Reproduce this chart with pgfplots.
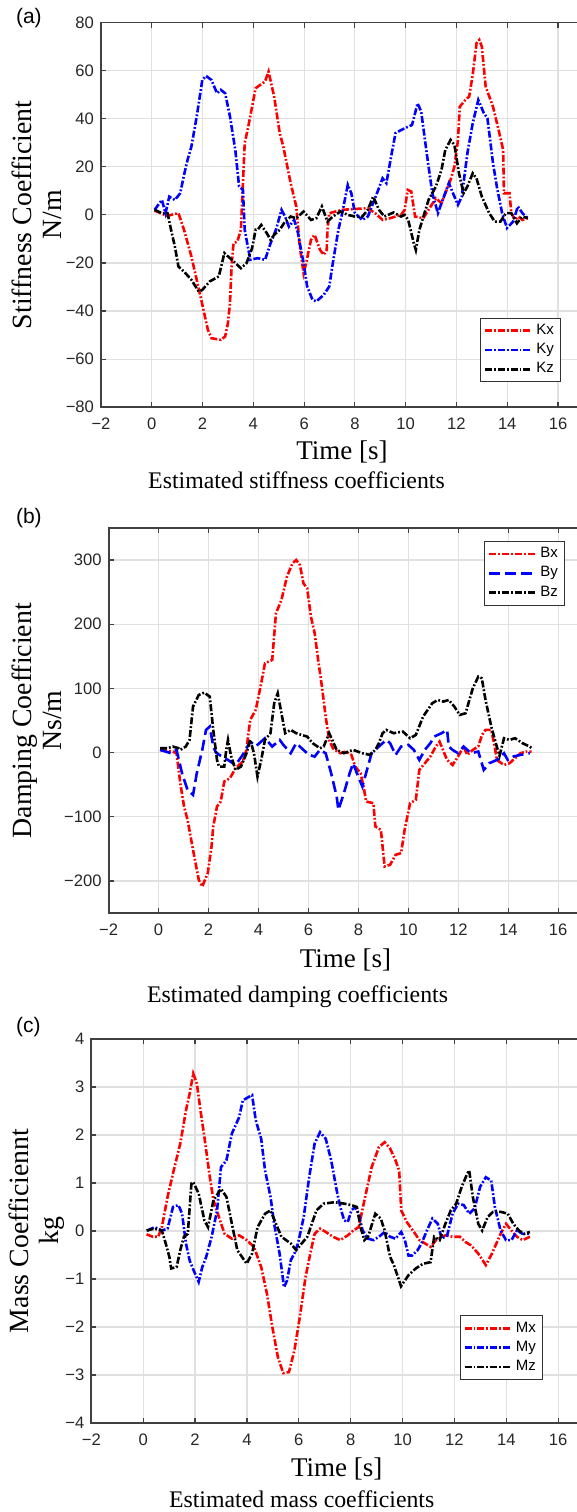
\documentclass[border=0pt]{standalone}
\usepackage{fontspec}
\setmainfont{Liberation Serif}
\newfontfamily\arialf{Liberation Sans}
\usepackage{pgfplots}
\pgfplotsset{compat=1.18}

\pgfplotsset{
  coefax/.style={
    scale only axis, anchor=south west,
    xmin=-2, xmax=17,
    xtick={-2,0,...,16},
    xticklabels={−2,0,2,4,6,8,10,12,14,16},
    tick align=inside, major tick length=2.5pt,
    tick style={black!75, line width=0.6pt},
    axis line style={black!75, line width=0.9pt},
    grid=major, grid style={black!12, line width=0.6pt},
    ticklabel style={font=\arialf\fontsize{8.3}{9}\selectfont, text=black!85},
    xticklabel style={yshift=-2pt},
    legend cell align=left,
    legend style={font=\arialf\fontsize{7.5}{8}\selectfont, draw=black!80,
      line width=0.5pt, inner xsep=1.5pt, inner ysep=1pt, row sep=-1pt,
      anchor=north east},
    legend image code/.code={\draw[#1] (0pt,0pt) -- (23pt,0pt);},
  },
  dashdot/.style={line width=1.3pt, dash pattern=on 3.5pt off 1pt on 0.9pt off 1pt},
  dashd/.style={line width=1.3pt, dash pattern=on 5.5pt off 2.5pt},
}

\begin{document}
\begin{tikzpicture}
\useasboundingbox (0,0) rectangle (288.5pt,756pt);
\clip (0,0) rectangle (288.5pt,756pt);

% (a) stiffness
\begin{axis}[coefax, at={(50.5pt,552.4pt)}, width=241.2pt, height=192.3pt,
  ymin=-80, ymax=80, ytick={-80,-60,...,80},
  yticklabels={−80,−60,−40,−20,0,20,40,60,80},
  legend style={at={(axis cs:16.13,-42.7)}}]
\addplot[red, dashdot] coordinates {
(0.11,1.8)(0.6,-0.4)(1.05,0.7)(1.27,-6.2)(1.56,-17.3)(1.92,-34)(2.21,-47.8)(2.35,-51.3)(2.72,-52)(2.89,-50.6)(3.0,-45)(3.08,-36.7)(3.15,-20.1)(3.22,-11.8)(3.37,-11.1)(3.51,-6.2)(3.66,29.8)(3.8,36.7)(4.09,52.7)(4.46,55.5)(4.6,59.6)(4.82,49.2)(5.04,34)(5.18,28.4)(5.47,13.2)(5.69,3.5)(5.83,-13.2)(5.98,-24.3)(6.08,-20.1)(6.27,-10.4)(6.41,-8.3)(6.63,-14.6)(6.77,-16.6)(6.89,-14.6)(6.92,-6.2)(6.99,0.7)(7.5,2.1)(7.93,2.4)(8.51,2.8)(8.8,0.7)(9.09,-2.1)(9.38,-1.4)(9.82,0)(9.96,2.1)(10.08,10.4)(10.22,9.7)(10.37,-0.7)(10.69,-1.4)(10.9,2.1)(11.19,6.9)(11.41,4.9)(11.77,14.6)(11.92,20.1)(12.06,31.2)(12.13,45)(12.35,47.8)(12.5,49.2)(12.64,58.2)(12.79,71.4)(12.9,72.8)(13.0,70)(13.15,53.4)(13.44,45)(13.66,35.3)(13.84,27)(13.87,9)(14.09,9)(14.16,0.7)(14.31,-2.1)(14.45,-0.7)(14.6,-2.1)(14.81,-1.4)
};
\addlegendentry{Kx}
\addplot[blue, dashdot] coordinates {
(0.11,2.1)(0.4,6.2)(0.54,0.7)(0.69,7.6)(0.91,6.2)(1.12,9)(1.27,16.6)(1.41,22.9)(1.56,28.4)(1.77,40.9)(1.99,56.1)(2.14,57.8)(2.35,56.1)(2.57,50.6)(2.72,52)(2.89,50.6)(3.08,40.9)(3.29,27)(3.44,11.8)(3.59,10.4)(3.66,-6.2)(3.88,-18.7)(4.17,-18)(4.46,-18.7)(4.68,-11.8)(4.89,-6.2)(5.11,2.1)(5.25,-0.7)(5.4,-4.9)(5.61,-2.1)(5.76,-7.6)(5.83,-11.8)(5.98,-20.1)(6.12,-29.8)(6.33,-35.3)(6.48,-36)(6.77,-33.3)(6.99,-29.8)(7.13,-20.1)(7.35,-6.2)(7.5,0.7)(7.72,12.5)(7.86,9)(8.0,0.7)(8.29,-2.1)(8.51,-0.7)(8.87,9)(9.09,15.2)(9.24,13.2)(9.45,25.6)(9.6,34)(9.82,35.3)(10.1,36.7)(10.25,37.4)(10.47,46.4)(10.61,43)(10.83,25.6)(11.05,9)(11.27,0.7)(11.41,4.9)(11.7,13.2)(11.92,7.6)(12.06,4.2)(12.21,7.6)(12.43,25.6)(12.64,38.1)(12.86,47.8)(13.08,42.3)(13.22,40.2)(13.44,21.5)(13.59,11.8)(13.8,0.7)(13.99,-5.5)(14.23,-2.8)(14.42,3.5)(14.6,0.7)(14.81,-1.4)
};
\addlegendentry{Ky}
\addplot[black, dashdot] coordinates {
(0.11,2.1)(0.4,0.7)(0.62,0.7)(0.76,-6.2)(0.91,-13.2)(1.05,-21.5)(1.27,-23.6)(1.56,-27)(1.85,-31.9)(1.99,-31.2)(2.28,-27.7)(2.64,-25.6)(2.86,-15.9)(3.08,-18)(3.51,-22.2)(3.73,-20.1)(3.95,-13.9)(4.09,-6.2)(4.17,-6.2)(4.31,-4.2)(4.53,-7.6)(4.68,-10.4)(4.82,-8.3)(5.04,-6.2)(5.25,-2.8)(5.47,-0.7)(5.69,-1.4)(5.98,1.4)(6.27,-2.1)(6.48,-1.4)(6.7,3.5)(6.92,-2.8)(7.13,-0.7)(7.43,1.4)(7.72,0)(8.0,-0.7)(8.29,-0.7)(8.51,2.1)(8.72,7.6)(8.95,2.1)(9.16,-0.7)(9.52,1)(9.82,-0.7)(9.96,0)(10.1,-2.1)(10.32,-11.8)(10.4,-14.6)(10.54,-6.2)(10.9,6.2)(11.19,11.8)(11.41,18.7)(11.56,27)(11.77,31.2)(11.92,29.1)(12.1,17.3)(12.28,9)(12.43,11.8)(12.64,17.3)(12.79,15.2)(13.0,7.6)(13.29,0.7)(13.51,-2.8)(13.73,-2.8)(13.95,0.7)(14.16,0.7)(14.38,-3.5)(14.6,-0.7)(14.81,-1.4)
};
\addlegendentry{Kz}
\end{axis}

% (b) damping
\begin{axis}[coefax, at={(54.3pt,299.5pt)}, width=237.3pt, height=192.5pt,
  ymin=-250, ymax=350, ytick={-200,-100,...,300},
  yticklabels={−200,−100,0,100,200,300},
  legend style={at={(axis cs:16.29,330)}}]
\addplot[red, dashdot] coordinates {
(0.06,4.2)(0.57,1.6)(0.72,-1)(0.87,-47.7)(1.02,-84)(1.16,-104.8)(1.38,-151.6)(1.61,-198.3)(1.75,-208.7)(1.97,-187.9)(2.12,-146.4)(2.19,-115.2)(2.34,-84)(2.49,-76.3)(2.63,-45.1)(2.86,-39.9)(3.08,-24.4)(3.37,-14)(3.52,4.2)(3.6,30.2)(3.67,51)(3.89,66.5)(4.11,108)(4.26,139.2)(4.55,144.4)(4.7,217.1)(4.92,237.8)(5.14,274.2)(5.36,294.9)(5.51,300.1)(5.66,292.3)(5.8,263.8)(5.95,256)(6.1,211.9)(6.25,185.9)(6.39,144.4)(6.54,102.8)(6.69,56.1)(6.83,19.7)(6.98,6.8)(7.06,4.2)(7.28,-1)(7.5,1.6)(7.72,-3.6)(7.87,-21.8)(8.09,-32.2)(8.23,-58.1)(8.31,-76.3)(8.6,-78.9)(8.68,-115.2)(8.9,-120.4)(9.05,-177.5)(9.27,-174.9)(9.49,-159.3)(9.71,-156.7)(9.85,-120.4)(10.07,-78.9)(10.3,-73.7)(10.44,-27)(10.66,-16.6)(10.88,-6.2)(11.1,9.4)(11.25,17)(11.33,9.4)(11.55,-11.5)(11.77,-19.3)(11.99,-6.2)(12.21,9.4)(12.36,-3.6)(12.58,4.2)(12.8,9.4)(12.95,27.5)(13.09,35.3)(13.32,35.3)(13.46,9.4)(13.54,-11.5)(13.83,-19.3)(14.05,-16.6)(14.27,-8.9)(14.49,-1)(14.72,1.6)(14.94,1.6)
};
\addlegendentry{Bx}
\addplot[blue, dashd] coordinates {
(0.06,4.2)(0.5,-1)(0.72,4.2)(0.94,-32.2)(1.16,-58.1)(1.38,-65.9)(1.53,-32.2)(1.75,4.2)(1.9,35.3)(2.05,40.5)(2.19,9.4)(2.3,0)(2.49,-5)(2.78,-11.5)(3.08,-19.3)(3.37,-3.6)(3.67,17)(3.9,10)(4.26,22.4)(4.55,9.4)(4.85,19.7)(5.0,11.9)(5.29,-1)(5.51,14.6)(5.8,4.2)(6.02,-3.6)(6.25,-6.2)(6.46,4.2)(6.69,-1)(6.91,-32.2)(7.13,-68.5)(7.2,-89.3)(7.42,-63.3)(7.65,-32.2)(7.79,-16.6)(7.94,-32.2)(8.16,-52.9)(8.38,-21.8)(8.53,-1)(8.82,9.4)(9.12,19.8)(9.27,14.6)(9.49,-3.6)(9.71,9.4)(10.0,12)(10.22,4.2)(10.44,-11.5)(10.66,4.2)(10.88,14.6)(11.03,24.9)(11.33,30.2)(11.55,35.3)(11.62,9.4)(11.77,4.2)(11.99,-1)(12.21,9.4)(12.51,-1)(12.8,1.6)(13.02,-27)(13.24,-16.6)(13.54,-11.5)(13.83,-1)(13.98,-11.5)(14.2,-6.2)(14.49,-3.6)(14.86,-1)
};
\addlegendentry{By}
\addplot[black, dashdot] coordinates {
(0.06,6.8)(0.35,6.8)(0.57,9.4)(0.8,6.8)(0.87,4.2)(1.09,9.4)(1.24,19.7)(1.38,71.7)(1.61,89.8)(1.83,93.5)(2.05,87.2)(2.19,35.3)(2.34,-11.5)(2.42,-21.8)(2.63,-21.8)(2.71,4.2)(2.78,19.7)(2.9,-5)(3.08,-27)(3.3,-21.8)(3.52,-1)(3.67,19.8)(3.82,-1)(3.96,-37.3)(4.11,-11.5)(4.26,19.8)(4.48,30.2)(4.63,77)(4.77,92.4)(4.92,61.3)(5.07,30.2)(5.29,35.3)(5.51,30.2)(5.73,27.5)(5.95,24.9)(6.17,14.6)(6.46,6.8)(6.61,9.4)(6.83,30.2)(6.98,17.2)(7.13,4.2)(7.42,-1)(7.79,4.2)(8.16,-1)(8.45,-3.6)(8.68,4.2)(8.82,14.6)(8.97,30.2)(9.12,35.3)(9.41,30.2)(9.78,32.7)(10.07,22.4)(10.3,27.5)(10.59,56.1)(10.96,77)(11.18,82)(11.4,79.5)(11.62,82)(11.84,71.7)(12.06,58.7)(12.29,61.3)(12.58,100.2)(12.8,118.4)(12.94,115.8)(13.09,82)(13.32,40.5)(13.54,9.4)(13.65,-5)(13.83,22.4)(14.05,19.7)(14.27,22.4)(14.57,14.6)(14.86,9.4)(14.94,6.8)
};
\addlegendentry{Bz}
\end{axis}

% (c) mass
\begin{axis}[coefax, at={(45.65pt,44.5pt)}, width=246.4pt, height=192pt,
  ymin=-4, ymax=4, ytick={-4,-3,...,4},
  yticklabels={−4,−3,−2,−1,0,1,2,3,4},
  legend style={at={(axis cs:15.43,-1.756)}}]
\addplot[red, dashdot] coordinates {
(0.13,-0.07)(0.37,-0.12)(0.58,-0.12)(0.72,0.08)(0.94,0.71)(1.15,1.2)(1.43,1.82)(1.65,2.51)(1.79,2.86)(1.93,3.28)(2.07,3.07)(2.21,2.51)(2.36,1.96)(2.57,1.12)(2.71,0.64)(2.92,0.29)(3.14,-0.06)(3.42,-0.16)(3.7,-0.09)(3.99,-0.19)(4.27,-0.33)(4.55,-0.75)(4.77,-1.3)(4.98,-2.0)(5.19,-2.62)(5.4,-2.96)(5.62,-2.94)(5.83,-2.49)(6.04,-1.79)(6.26,-0.96)(6.47,-0.4)(6.61,-0.06)(6.82,0.05)(7.04,-0.02)(7.32,-0.12)(7.6,-0.19)(7.89,-0.09)(8.1,0.01)(8.31,0.08)(8.53,0.64)(8.81,1.33)(9.09,1.75)(9.31,1.85)(9.52,1.72)(9.73,1.47)(9.87,1.26)(9.95,0.43)(10.16,0.19)(10.44,-0.02)(10.65,-0.19)(10.87,-0.26)(11.08,-0.33)(11.29,-0.19)(11.65,-0.09)(11.93,-0.12)(12.21,-0.12)(12.43,-0.23)(12.64,-0.3)(12.92,-0.47)(13.21,-0.71)(13.42,-0.5)(13.56,-0.33)(13.78,-0.06)(13.99,0.15)(14.2,0.01)(14.41,-0.12)(14.63,-0.19)(14.91,-0.12)
};
\addlegendentry{Mx}
\addplot[blue, dashdot] coordinates {
(0.16,0.01)(0.44,0.08)(0.72,0.01)(0.94,0.05)(1.15,0.5)(1.36,0.54)(1.5,0.36)(1.65,-0.26)(1.79,-0.61)(1.93,-0.8)(2.14,-1.06)(2.28,-0.75)(2.43,-0.54)(2.64,-0.12)(2.85,0.43)(3.0,1.33)(3.21,1.47)(3.42,2.03)(3.7,2.37)(3.84,2.72)(4.06,2.79)(4.2,2.83)(4.34,2.31)(4.55,1.92)(4.7,1.26)(4.91,0.71)(5.05,0.15)(5.26,-0.47)(5.43,-1.17)(5.55,-1.03)(5.69,-0.61)(5.83,-0.47)(5.97,-0.26)(6.19,0.29)(6.4,1.12)(6.61,1.82)(6.82,2.06)(7.04,1.92)(7.25,1.47)(7.46,0.85)(7.6,0.5)(7.75,0.22)(7.89,0.19)(8.03,0.43)(8.17,0.5)(8.31,0.36)(8.46,0.01)(8.67,-0.16)(8.88,-0.19)(9.09,-0.12)(9.31,-0.02)(9.52,-0.12)(9.73,-0.16)(9.95,-0.02)(10.09,-0.19)(10.23,-0.51)(10.37,-0.51)(10.58,-0.4)(10.73,-0.26)(10.94,0.01)(11.15,0.26)(11.36,0.15)(11.51,-0.16)(11.72,-0.09)(11.93,0.36)(12.14,0.57)(12.36,0.54)(12.57,0.36)(12.78,0.47)(12.99,0.92)(13.21,1.12)(13.42,1.05)(13.56,0.5)(13.78,0.01)(13.99,-0.19)(14.2,-0.19)(14.41,0.01)(14.63,-0.06)(14.91,-0.06)
};
\addlegendentry{My}
\addplot[black, dashdot] coordinates {
(0.13,0.01)(0.44,0.05)(0.72,0.01)(0.87,-0.26)(1.01,-0.54)(1.08,-0.78)(1.29,-0.75)(1.43,-0.4)(1.57,-0.12)(1.72,-0.06)(1.86,0.99)(1.93,1.02)(2.14,0.78)(2.36,0.22)(2.5,0.08)(2.71,0.64)(3.0,0.88)(3.21,0.71)(3.42,0.15)(3.63,-0.4)(3.99,-0.68)(4.2,-0.47)(4.41,0.08)(4.7,0.36)(4.91,0.43)(5.12,0.15)(5.33,-0.12)(5.69,-0.26)(5.9,-0.4)(6.11,-0.26)(6.33,-0.12)(6.68,0.43)(6.96,0.57)(7.38,0.6)(7.75,0.57)(8.03,0.54)(8.24,0.5)(8.38,0.08)(8.53,-0.19)(8.67,-0.12)(8.95,0.36)(9.16,0.26)(9.31,0.01)(9.52,-0.54)(9.66,-0.7)(9.94,-1.15)(10.23,-0.92)(10.51,-0.78)(10.8,-0.68)(11.08,-0.65)(11.22,-0.12)(11.43,-0.19)(11.65,0.15)(11.86,0.43)(12.07,0.57)(12.28,0.92)(12.5,1.2)(12.57,1.26)(12.71,0.71)(12.92,0.15)(13.07,0.01)(13.28,0.29)(13.49,0.4)(13.78,0.4)(14.06,0.36)(14.27,0.15)(14.49,0.01)(14.69,-0.06)(14.91,-0.02)
};
\addlegendentry{Mz}
\end{axis}

% labels and captions
\tikzset{ylab/.style={rotate=90, align=center, font=\fontsize{13.9}{15}\selectfont},
  xlab/.style={anchor=base, font=\fontsize{13.5}{15}\selectfont},
  capt/.style={anchor=base, font=\fontsize{11.9}{13}\selectfont},
  plab/.style={anchor=west, font=\arialf\fontsize{10.5}{12}\selectfont}}
\node[plab] at (4.5pt,747pt) {(a)};
\node[plab] at (4.5pt,497pt) {(b)};
\node[plab] at (4.5pt,242.7pt) {(c)};
\node[ylab] at (18.5pt,648.5pt) {Stiffness Coefficient\\N/m};
\node[ylab] at (18.5pt,395.7pt) {Damping Coefficient\\Ns/m};
\node[ylab] at (18.5pt,140.5pt) {Mass Coefficiennt\\kg};
\node[xlab] at (171pt,526pt) {Time [s]};
\node[xlab] at (172.75pt,272pt) {Time [s]};
\node[xlab] at (168.35pt,17.5pt) {Time [s]};
\node[capt] at (148.25pt,511.5pt) {Estimated stiffness coefficients};
\node[capt] at (148.75pt,254.5pt) {Estimated damping coefficients};
\node[capt] at (150.85pt,2pt) {Estimated mass coefficients};
\end{tikzpicture}
\end{document}
